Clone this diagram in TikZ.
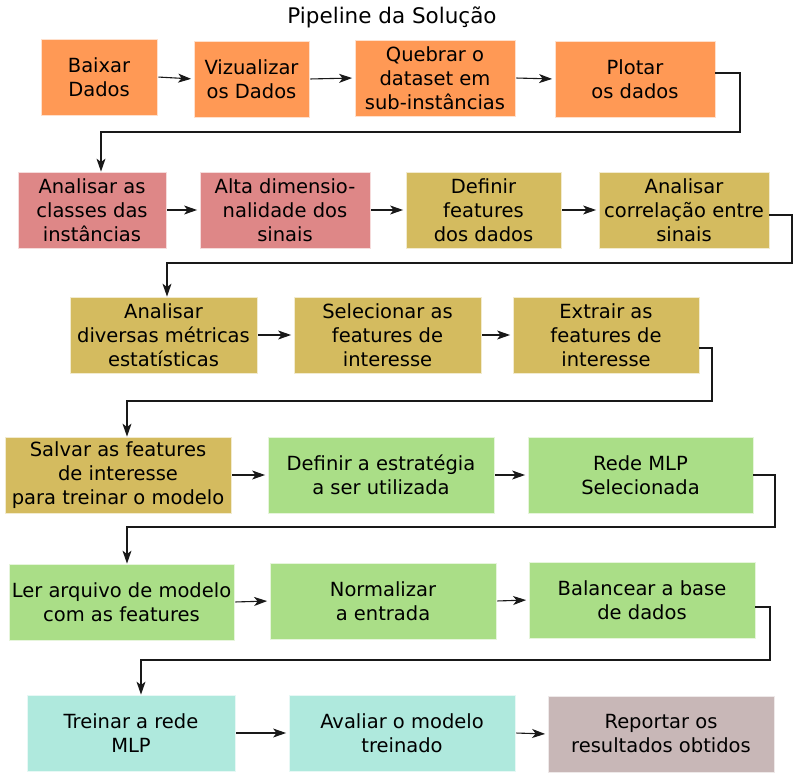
\documentclass[tikz,border=0pt]{standalone}
\usepackage{fontspec}
\setmainfont{DejaVu Sans}
\usetikzlibrary{arrows.meta}
\definecolor{corange}{HTML}{FF9955}
\definecolor{cpink}{HTML}{DE8787}
\definecolor{colive}{HTML}{D4BB5F}
\definecolor{cgreen}{HTML}{AADE87}
\definecolor{ccyan}{HTML}{AFE9DD}
\definecolor{crose}{HTML}{C8B7B7}
\tikzset{
  box/.style={draw=white!70!#1, line width=0.8pt, fill=#1, align=center, inner sep=0pt,
    font=\fontsize{19.5}{24}\selectfont, text=black},
  arr/.style={draw=black!90, line width=1.1pt, -{Stealth[length=13pt,width=9pt,inset=3.5pt]},
    shorten <=1pt, shorten >=2.5pt},
  conn/.style={draw=black!90, line width=1.1pt, -{Stealth[length=13pt,width=9pt,inset=3.5pt]}},
  ttl/.style={font=\fontsize{21.5}{26}\selectfont, anchor=base}
}
\begin{document}
\begin{tikzpicture}[x=1pt,y=-1pt]
\useasboundingbox[fill=white] (0,0) rectangle (800,778);
\node[ttl] (title) at (392,24) {Pipeline da Solução};
% row 1
\node[box=corange, minimum width=116pt, minimum height=76pt] (b1) at (99,77) {Baixar\\Dados};
\node[box=corange, minimum width=115pt, minimum height=76pt] (b2) at (251.5,79) {Vizualizar\\os Dados};
\node[box=corange, minimum width=160pt, minimum height=76pt] (b3) at (435,78) {Quebrar o\\dataset em\\sub-instâncias};
\node[box=corange, minimum width=160pt, minimum height=76pt] (b4) at (635,79) {Plotar\\os dados};
% row 2
\node[box=cpink, minimum width=148pt, minimum height=76pt] (b5) at (92,210) {Analisar as\\classes das\\instâncias};
\node[box=cpink, minimum width=170pt, minimum height=76pt] (b6) at (285,210) {Alta dimensio-\\nalidade dos\\sinais};
\node[box=colive, minimum width=155pt, minimum height=76pt] (b7) at (483.5,210) {Definir\\features\\dos dados};
\node[box=colive, minimum width=170pt, minimum height=76pt] (b8) at (684,210) {Analisar\\correlação entre\\sinais};
% row 3
\node[box=colive, minimum width=187pt, minimum height=76pt] (b9) at (163.5,335) {Analisar\\diversas métricas\\estatísticas};
\node[box=colive, minimum width=187pt, minimum height=76pt] (b10) at (387.5,335) {Selecionar as\\features de\\interesse};
\node[box=colive, minimum width=186pt, minimum height=76pt] (b11) at (606,335) {Extrair as\\features de\\interesse};
% row 4
\node[box=colive, minimum width=226pt, minimum height=76pt] (b12) at (118,475) {Salvar as features\\de interesse\\para treinar o modelo};
\node[box=cgreen, minimum width=226pt, minimum height=76pt] (b13) at (381,475) {Definir a estratégia\\a ser utilizada};
\node[box=cgreen, minimum width=225pt, minimum height=76pt] (b14) at (640.5,475) {Rede MLP\\Selecionada};
% row 5
\node[box=cgreen, minimum width=225pt, minimum height=76pt] (b15) at (121.5,602) {Ler arquivo de modelo\\com as features};
\node[box=cgreen, minimum width=226pt, minimum height=76pt] (b16) at (383,601) {Normalizar\\a entrada};
\node[box=cgreen, minimum width=226pt, minimum height=76pt] (b17) at (642,600) {Balancear a base\\de dados};
% row 6
\node[box=ccyan, minimum width=208pt, minimum height=76pt] (b18) at (131,733) {Treinar a rede\\MLP};
\node[box=ccyan, minimum width=226pt, minimum height=76pt] (b19) at (402,733) {Avaliar o modelo\\treinado};
\node[box=crose, minimum width=226pt, minimum height=76pt] (b20) at (661,734) {Reportar os\\resultados obtidos};
% horizontal arrows
\draw[arr] (b1.east) -- (b2.west);
\draw[arr] (b2.east) -- (b3.west);
\draw[arr] (b3.east) -- (b4.west);
\draw[arr] (b5.east) -- (b6.west);
\draw[arr] (b6.east) -- (b7.west);
\draw[arr] (b7.east) -- (b8.west);
\draw[arr] (b9.east) -- (b10.west);
\draw[arr] (b10.east) -- (b11.west);
\draw[arr] (b12.east) -- (b13.west);
\draw[arr] (b13.east) -- (b14.west);
\draw[arr] (b15.east) -- (b16.west);
\draw[arr] (b16.east) -- (b17.west);
\draw[arr] (b18.east) -- (b19.west);
\draw[arr] (b19.east) -- (b20.west);
% row-to-row connectors
\coordinate (k1) at (740,132);
\coordinate (k2) at (792,263);
\coordinate (k3) at (712,401);
\coordinate (k4) at (775,527);
\coordinate (k5) at (770,660);
\draw[conn] ([yshift=6pt]b4.east) -| (k1) -| ([xshift=9pt]b5.north);
\draw[conn] ([yshift=-5pt]b8.east) -| (k2) -| ([xshift=3.5pt]b9.north);
\draw[conn] ([yshift=-13pt]b11.east) -| (k3) -| ([xshift=9pt]b12.north);
\draw[conn] (b14.east) -| (k4) -| ([xshift=5.5pt]b15.north);
\draw[conn] ([yshift=-7pt]b17.east) -| (k5) -| ([xshift=10pt]b18.north);
\end{tikzpicture}
\end{document}
